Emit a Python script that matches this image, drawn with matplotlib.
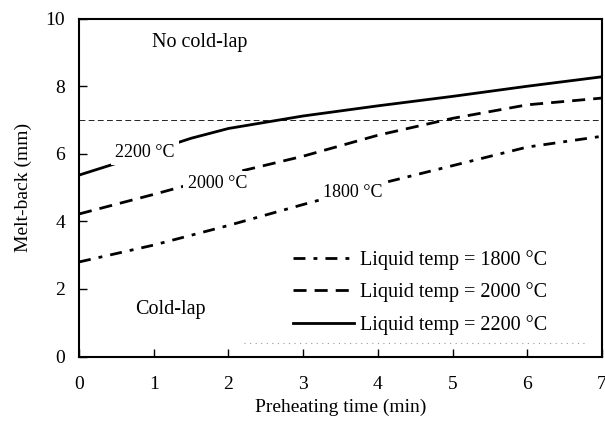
import matplotlib
matplotlib.use("Agg")
import matplotlib.pyplot as plt

plt.rcParams['font.family'] = ['Liberation Serif', 'DejaVu Serif']

time_min = [0, 1, 2, 3, 4, 5, 6, 7]
melt_1800 = [2.8, 3.3, 3.88, 4.5, 5.1, 5.65, 6.2, 6.52]
melt_2000 = [4.22, 4.8, 5.4, 5.93, 6.55, 7.05, 7.45, 7.65]
time_2200 = [0, 0.5, 1, 1.5, 2, 3, 4, 5, 6, 7]
melt_2200 = [5.37, 5.72, 6.1, 6.46, 6.75, 7.12, 7.42, 7.7, 8.0, 8.28]
threshold = 7.0
labels = ["Liquid temp = 1800 \u00b0C", "Liquid temp = 2000 \u00b0C", "Liquid temp = 2200 \u00b0C"]
xticks = [0, 1, 2, 3, 4, 5, 6, 7]
yticks = [0, 2, 4, 6, 8, 10]

fig = plt.figure(figsize=(6.05, 4.24), dpi=100)
ax = fig.add_axes([0.1306, 0.159, 0.8644, 0.797])

lw = 2.0
l1, = ax.plot(time_min, melt_1800, color='black', lw=lw,
              linestyle=(0, (4.3, 2.9, 1.4, 2.9)), label=labels[0])
l2, = ax.plot(time_min, melt_2000, color='black', lw=lw,
              linestyle=(0, (4.7, 2.9)), label=labels[1])
l3, = ax.plot(time_2200, melt_2200, color='black', lw=lw,
              linestyle='-', label=labels[2])
ax.plot([0, 7], [threshold, threshold], color='black', lw=0.6,
        linestyle=(0, (7, 4)))

# dotted remnant under legend
ax.plot([2.21, 6.8], [0.4, 0.4], color='#999999', lw=0.8, linestyle=(0, (1, 4)))

bb = dict(facecolor='white', edgecolor='none', pad=3)
ax.text(0.88, 6.05, "2200 \u00b0C", fontsize=13, ha='center', va='center', bbox=bb, zorder=5)
ax.text(1.85, 5.12, "2000 \u00b0C", fontsize=13, ha='center', va='center', bbox=bb, zorder=5)
ax.text(3.67, 4.87, "1800 \u00b0C", fontsize=13, ha='center', va='center', bbox=bb, zorder=5)

ax.text(1.62, 9.3, "No cold-lap", fontsize=14.5, ha='center', va='center')
ax.text(1.22, 1.38, "Cold-lap", fontsize=14.5, ha='center', va='center')

ax.set_xlim(0, 7)
ax.set_ylim(0, 10)
ax.set_xticks(xticks)
ax.set_yticks(yticks)
ax.tick_params(direction='in', length=6, width=1, labelsize=14)
ax.tick_params(axis='x', pad=14)
ax.tick_params(axis='y', pad=10)
for s in ax.spines.values():
    s.set_linewidth(1.5)

ax.set_xlabel("Preheating time (min)", fontsize=14, labelpad=4)
ax.set_ylabel("Melt-back (mm)", fontsize=14, labelpad=10)

ax.legend(handles=[l1, l2, l3], loc='upper left', bbox_to_anchor=(0.41, 0.315),
          frameon=False, fontsize=14.5, handlelength=3.0, handletextpad=0.3,
          labelspacing=0.62, borderpad=0.0, borderaxespad=0)

fig.savefig("out.png", dpi=100)
